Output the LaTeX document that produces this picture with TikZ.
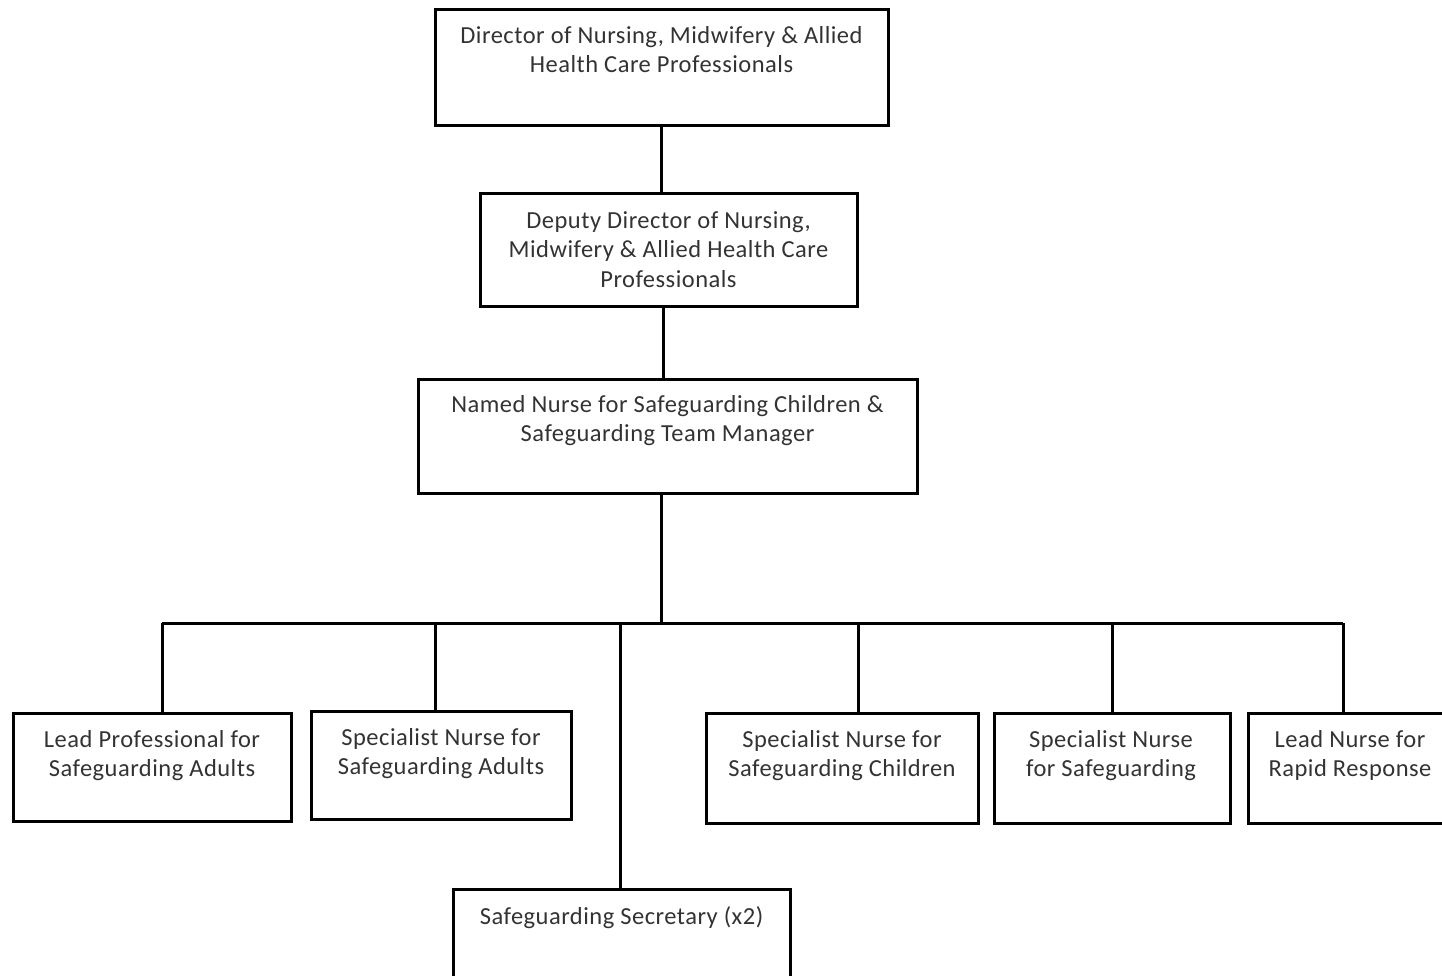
\documentclass[tikz,border=0pt]{standalone}
\usepackage{fontspec}
\setmainfont{Carlito}[LetterSpace=2]
\usetikzlibrary{calc}
\begin{document}
\begin{tikzpicture}[x=1pt,y=-1pt,
  box/.style={draw=black,line width=3pt,rectangle,inner sep=0pt,outer sep=0pt},
  txt/.style={anchor=north,inner sep=0pt,align=center,text=black!80,font=\fontsize{24.5}{29.5}\selectfont},
  link/.style={draw=black,line width=3pt}]
\useasboundingbox (0,0) rectangle (1442,976);
\clip (0,0) rectangle (1442,976);
\fill[white] (0,0) rectangle (1442,976);
% boxes
\node[box,minimum width=453pt,minimum height=116pt] (dir) at (661.5,68) {};
\node[box,minimum width=377pt,minimum height=112pt] (dep) at (668.5,250) {};
\node[box,minimum width=499pt,minimum height=114pt] (nam) at (667.5,436) {};
\node[box,minimum width=278pt,minimum height=108pt] (lpa) at (152,767) {};
\node[box,minimum width=260pt,minimum height=108pt] (sna) at (441,765) {};
\node[box,minimum width=272pt,minimum height=110pt] (snc) at (842,768) {};
\node[box,minimum width=236pt,minimum height=110pt] (sns) at (1112,768) {};
\node[box,minimum width=210pt,minimum height=110pt] (lnr) at (1353,768) {};
\node[box,minimum width=337pt,minimum height=120pt] (sec) at (621.5,949) {};
% texts
\node[txt] (tdir) at ($(dir.north)+(0,16)$) {Director of Nursing, Midwifery \& Allied\\Health Care Professionals};
\node[txt] (tdep) at ($(dep.north)+(0,17)$) {Deputy Director of Nursing,\\Midwifery \& Allied Health Care\\Professionals};
\node[txt] (tnam) at ($(nam.north)+(0,16)$) {Named Nurse for Safeguarding Children \&\\Safeguarding Team Manager};
\node[txt] (tlpa) at ($(lpa.north)+(0,17)$) {Lead Professional for\\Safeguarding Adults};
\node[txt] (tsna) at ($(sna.north)+(0,17)$) {Specialist Nurse for\\Safeguarding Adults};
\node[txt] (tsnc) at ($(snc.north)+(0,17)$) {Specialist Nurse for\\Safeguarding Children};
\node[txt] (tsns) at ($(sns.north)+(-1,17)$) {Specialist Nurse\\for Safeguarding};
\node[txt] (tlnr) at (1350,730) {Lead Nurse for\\Rapid Response};
\node[txt] (tsec) at ($(sec.north)+(0,17)$) {Safeguarding Secretary (x2)};
% connectors
\coordinate (bus) at (661,623);
\draw[link] (dir.south) -- (dir.south |- dep.north);
\draw[link] (663,306) -- (663,379);
\draw[link] (661,493) -- (bus);
\draw[link] (162,623) -- (1343,623);
\draw[link] (162,623) -- (162,713);
\draw[link] (435,623) -- (435,711);
\draw[link] (620,623) -- (sec.north -| 620,0);
\draw[link] (858,623) -- (858,713);
\draw[link] (1112,623) -- (sns.north);
\draw[link] (1343,623) -- (1343,713);
\end{tikzpicture}
\end{document}
